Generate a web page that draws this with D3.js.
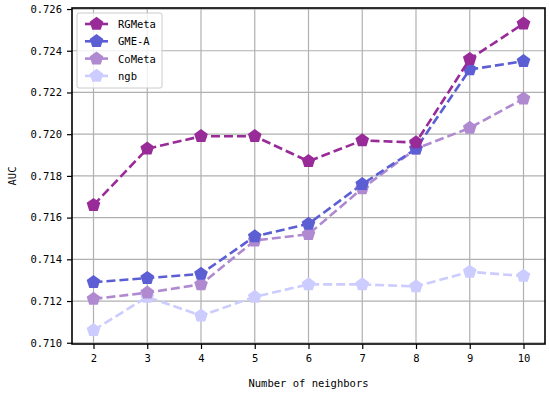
<!DOCTYPE html>
<html>
<head>
<meta charset="utf-8">
<script src="https://cdn.jsdelivr.net/npm/d3@7"></script>
<style>
  body { margin: 0; background: #fff; }
  text { font-family: "DejaVu Sans Mono", "Liberation Mono", monospace; }
</style>
</head>
<body>
<svg id="chart" width="550" height="394"></svg>
<script>
const neighbors = [2, 3, 4, 5, 6, 7, 8, 9, 10];
const rgmeta = [0.7166, 0.7193, 0.7199, 0.7199, 0.7187, 0.7197, 0.7196, 0.7236, 0.7253];
const gmea   = [0.7129, 0.7131, 0.7133, 0.7151, 0.7157, 0.7176, 0.7193, 0.7231, 0.7235];
const cometa = [0.7121, 0.7124, 0.7128, 0.7149, 0.7152, 0.7174, 0.7193, 0.7203, 0.7217];
const ngb    = [0.7106, 0.7122, 0.7113, 0.7122, 0.7128, 0.7128, 0.7127, 0.7134, 0.7132];
const yTicks = [0.710, 0.712, 0.714, 0.716, 0.718, 0.720, 0.722, 0.724, 0.726];

const series = [
  {name: 'ngb', values: ngb, color: '#ccccff'},
  {name: 'CoMeta', values: cometa, color: '#b08ad0'},
  {name: 'GME-A', values: gmea, color: '#5c5fd4'},
  {name: 'RGMeta', values: rgmeta, color: '#992b99'}
];
const legendOrder = ['RGMeta', 'GME-A', 'CoMeta', 'ngb'];

const svg = d3.select('#chart'),
  margin = {top: 8, right: 5, bottom: 50, left: 72},
  width = +svg.attr('width') - margin.left - margin.right,
  height = +svg.attr('height') - margin.top - margin.bottom;

const x = d3.scaleLinear().domain([1.6, 10.4]).range([0, width]),
  y = d3.scaleLinear().domain([0.70994, 0.72605]).range([height, 0]);

const g = svg.append('g')
  .attr('transform', 'translate(' + margin.left + ',' + margin.top + ')');

// grid
g.append('g').selectAll('line').data(neighbors).enter().append('line')
  .attr('x1', d => x(d)).attr('x2', d => x(d))
  .attr('y1', 0).attr('y2', height)
  .attr('stroke', '#b0b0b0').attr('stroke-width', 1.2);
g.append('g').selectAll('line').data(yTicks).enter().append('line')
  .attr('x1', 0).attr('x2', width)
  .attr('y1', d => y(d)).attr('y2', d => y(d))
  .attr('stroke', '#b0b0b0').attr('stroke-width', 1.2);

// axes
const xAxis = g.append('g')
  .attr('transform', 'translate(0,' + height + ')')
  .call(d3.axisBottom(x).tickValues(neighbors).tickFormat(d3.format('d')).tickSize(5).tickPadding(6));
const yAxis = g.append('g')
  .call(d3.axisLeft(y).tickValues(yTicks).tickFormat(d3.format('.3f')).tickSize(5).tickPadding(5));
[xAxis, yAxis].forEach(a => {
  a.select('.domain').remove();
  a.selectAll('line').attr('stroke', '#000').attr('stroke-width', 1.2);
  a.selectAll('text').attr('font-size', '10.5px').attr('fill', '#000')
    .style('font-family', '"DejaVu Sans Mono", monospace');
});

g.append('rect')
  .attr('width', width).attr('height', height)
  .attr('fill', 'none').attr('stroke', '#000').attr('stroke-width', 1.6);

// pentagon marker
function pentagon(r) {
  const pts = d3.range(5).map(i => {
    const a = -Math.PI / 2 + i * 2 * Math.PI / 5;
    return [r * Math.cos(a), r * Math.sin(a)];
  });
  return 'M' + pts.map(p => p.join(',')).join('L') + 'Z';
}

const line = d3.line().x((d, i) => x(neighbors[i])).y(d => y(d));

series.forEach(s => {
  g.append('path')
    .datum(s.values)
    .attr('d', line)
    .attr('fill', 'none')
    .attr('stroke', s.color)
    .attr('stroke-width', 2.6)
    .attr('stroke-dasharray', '9,4');
  g.append('g').selectAll('path').data(s.values).enter().append('path')
    .attr('transform', (d, i) => 'translate(' + x(neighbors[i]) + ',' + y(d) + ')')
    .attr('d', pentagon(7.2))
    .attr('fill', s.color);
});

// legend
const legend = g.append('g').attr('transform', 'translate(5,5)');
legend.append('rect')
  .attr('width', 85).attr('height', 75).attr('rx', 2)
  .attr('fill', 'rgba(255,255,255,0.8)').attr('stroke', '#cccccc');
legendOrder.forEach((name, i) => {
  const s = series.find(d => d.name === name);
  const row = legend.append('g').attr('transform', 'translate(0,' + (11 + i * 17.3) + ')');
  row.append('line')
    .attr('x1', 8).attr('x2', 31).attr('y1', 0).attr('y2', 0)
    .attr('stroke', s.color).attr('stroke-width', 2.6);
  row.append('path')
    .attr('transform', 'translate(19.5,0)')
    .attr('d', pentagon(7.2))
    .attr('fill', s.color);
  row.append('text')
    .attr('x', 41).attr('y', 4)
    .attr('font-size', '10.5px')
    .text(name);
});

// labels
g.append('text')
  .attr('x', width / 2).attr('y', height + 43)
  .attr('text-anchor', 'middle')
  .attr('font-size', '10.5px')
  .text('Number of neighbors');
g.append('text')
  .attr('transform', 'translate(' + (-56) + ',' + (height / 2) + ') rotate(-90)')
  .attr('text-anchor', 'middle')
  .attr('font-size', '10.5px')
  .text('AUC');
</script>
</body>
</html>
